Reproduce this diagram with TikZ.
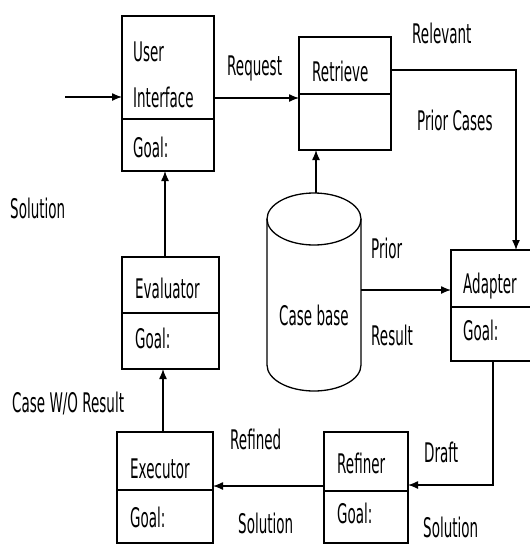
\documentclass[tikz,border=0pt]{standalone}
\usepackage{fontspec}
\setmainfont{DejaVu Sans}[FakeStretch=0.5]
\usetikzlibrary{arrows.meta}

\begin{document}
\begin{tikzpicture}[x=1pt,y=-1pt,
  box/.style={draw, line width=1.4pt, inner sep=0, outer sep=0, anchor=north west},
  lbl/.style={inner sep=0, anchor=base west, font=\fontsize{27}{30}\selectfont},
  wire/.style={line width=1.3pt},
  link/.style={wire, -{Latex[length=10pt,width=8pt]}}]

\useasboundingbox (0,0) rectangle (530,544);
\clip (0,0) rectangle (530,544);

% agent boxes
\node[box, minimum width=92pt, minimum height=155pt] (ui)  at (122,16)  {};
\node[box, minimum width=92pt, minimum height=113pt] (ret) at (299,37)  {};
\node[box, minimum width=97pt, minimum height=112pt] (eva) at (122,257) {};
\node[box, minimum width=85pt, minimum height=111pt] (ada) at (451,250) {};
\node[box, minimum width=96pt, minimum height=111pt] (exe) at (117,432) {};
\node[box, minimum width=84pt, minimum height=111pt] (ref) at (324,432) {};

% dividers between name and goal
\coordinate (uiD)  at (0,119);
\coordinate (retD) at (0,94);
\coordinate (evaD) at (0,313);
\coordinate (adaD) at (0,307);
\coordinate (exeD) at (0,490);
\coordinate (refD) at (0,491);
\draw[wire] (ui.west |- uiD) -- (ui.east |- uiD);
\draw[wire] (ret.west |- retD) -- (ret.east |- retD);
\draw[wire] (eva.west |- evaD) -- (eva.east |- evaD);
\draw[wire] (ada.west |- adaD) -- (ada.east |- adaD);
\draw[wire] (exe.west |- exeD) -- (exe.east |- exeD);
\draw[wire] (ref.west |- refD) -- (ref.east |- refD);

% case base cylinder
\node[inner sep=0, outer sep=0, minimum width=94pt, minimum height=198pt] (cb) at (314,292) {};
\draw[wire] ([yshift=-26pt]cb.north) ellipse [x radius=47pt, y radius=26pt];
\draw[wire] ([yshift=-26pt]cb.north west) -- ([yshift=26pt]cb.south west)
  arc[start angle=180, end angle=360, x radius=47pt, y radius=26pt]
  -- ([yshift=-26pt]cb.north east);

% connectors
\coordinate (inStart) at (65,97);
\draw[link] (inStart) -- (inStart -| ui.west);
\coordinate (reqY) at (0,98);
\draw[link] (ui.east |- reqY) -- (ret.west |- reqY);
\coordinate (relX) at (516,70);
\draw[link] (ret.east |- relX) -| (ada.north -| relX);
\coordinate (cbX) at (316,0);
\draw[link] (cb.north -| cbX) -- (ret.south -| cbX);
\coordinate (priorY) at (0,290);
\draw[link] (cb.east |- priorY) -- (ada.west |- priorY);
\coordinate (draftX) at (493,485);
\draw[link] (ada.south -| draftX) |- (ref.east |- draftX);
\coordinate (refY) at (0,486);
\draw[link] (ref.west |- refY) -- (exe.east |- refY);
\coordinate (caseX) at (163,0);
\draw[link] (exe.north -| caseX) -- (eva.south -| caseX);
\coordinate (solX) at (165,0);
\draw[link] (eva.north -| solX) -- (ui.south -| solX);

% texts inside the boxes
\node[lbl] (tUser)  at (133,61)  {User};
\node[lbl] (tIntf)  at (133,107) {Interface};
\node[lbl] (gUi)    at (133,157) {Goal:};
\node[lbl] (tRet)   at (312,81)  {Retrieve};
\node[lbl] (tEva)   at (135,298) {Evaluator};
\node[lbl] (gEva)   at (135,348) {Goal:};
\node[lbl] (tAda)   at (463,293) {Adapter};
\node[lbl] (gAda)   at (463,340) {Goal:};
\node[lbl] (tExe)   at (130,478) {Executor};
\node[lbl] (gExe)   at (130,527) {Goal:};
\node[lbl] (tRef)   at (337,473) {Refiner};
\node[lbl] (gRef)   at (337,523) {Goal:};
\node[lbl, anchor=base] (tCb) at (314,325) {Case base};

% connector labels
\node[lbl] (lReq)   at (227,75)  {Request};
\node[lbl] (lRel)   at (412,43)  {Relevant};
\node[lbl] (lPc)    at (417,130) {Prior Cases};
\node[lbl] (lSol)   at (10,218)  {Solution};
\node[lbl] (lPrior) at (371,258) {Prior};
\node[lbl] (lRes)   at (371,345) {Result};
\node[lbl] (lCase)  at (12,412)  {Case W/O Result};
\node[lbl] (lRefd)  at (230,449) {Refined};
\node[lbl] (lSolM)  at (238,533) {Solution};
\node[lbl] (lDraft) at (424,462) {Draft};
\node[lbl] (lSolR)  at (423,537) {Solution};
\end{tikzpicture}
\end{document}
